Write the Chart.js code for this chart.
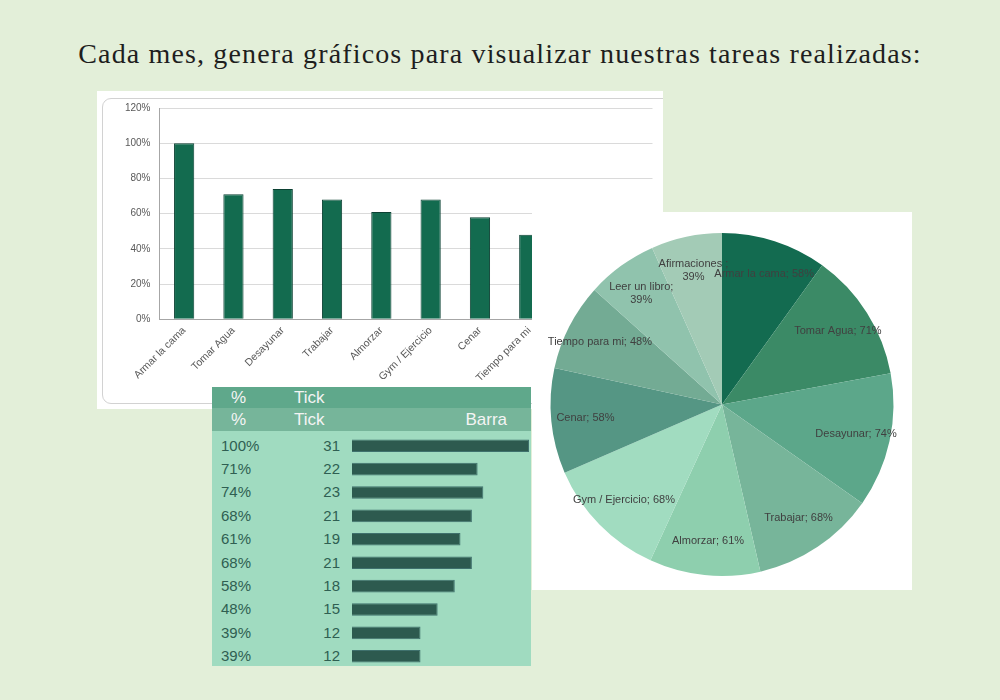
<!DOCTYPE html>
<html lang="es">
<head>
<meta charset="utf-8">
<title>Tareas realizadas</title>
<script src="https://cdn.jsdelivr.net/npm/chart.js@4.4.1/dist/chart.umd.min.js"></script>
<style>
  html, body { margin: 0; padding: 0; }
  body {
    width: 1000px; height: 700px; position: relative; overflow: hidden;
    background: #e3efd9;
    font-family: "Liberation Sans", Arial, sans-serif;
  }
  .title {
    position: absolute; left: 0; top: 40px; width: 1000px;
    text-align: center; white-space: nowrap;
    font-family: "Liberation Serif", "DejaVu Serif", serif;
    font-size: 28px; line-height: 28px; letter-spacing: 1.15px; color: #1e1e1e;
  }
  .bar-panel {
    position: absolute; left: 97px; top: 91px; width: 566px; height: 318px;
    background: #fff; overflow: hidden; z-index: 1;
  }
  .bar-panel .frame {
    position: absolute; left: 5px; top: 7px; width: 620px; height: 306px;
    border: 1px solid #d2d2d2; border-radius: 9px; box-sizing: border-box;
  }
  .bar-panel canvas { position: absolute; left: 0; top: 0; }
  .pie-panel {
    position: absolute; left: 532px; top: 212px; width: 380px; height: 378px;
    background: #fff; z-index: 2;
  }
  .pie-panel canvas { position: absolute; left: 0; top: 0; }
  .table-panel {
    position: absolute; left: 212px; top: 387px; width: 319px; height: 279px;
    background: #a0dbc0; z-index: 3; overflow: hidden;
  }
  .head { position: absolute; left: 0; width: 319px; color: #f4f4f4; font-size: 17px; }
  .head1 { top: 0; height: 21px; line-height: 21px; background: #5fa88b; }
  .head2 { top: 21px; height: 23px; line-height: 23px; background: #76b59a; }
  .head span, .row span { position: absolute; top: 0; }
  .row { position: absolute; left: 0; width: 319px; height: 23.4px; line-height: 23.4px; color: #2f5f52; font-size: 15px; }
  .table-panel canvas { position: absolute; left: 140px; top: 46.6px; }
</style>
</head>
<body>

<div class="title">Cada mes, genera gráficos para visualizar nuestras tareas realizadas:</div>

<div class="bar-panel">
  <div class="frame"></div>
  <canvas id="barChart" width="566" height="318"></canvas>
</div>

<div class="pie-panel">
  <canvas id="pieChart" width="380" height="378"></canvas>
</div>

<div class="table-panel">
  <div class="head head1"><span style="left:19px">%</span><span style="left:82px">Tick</span></div>
  <div class="head head2"><span style="left:19px">%</span><span style="left:82px">Tick</span><span style="right:24px">Barra</span></div>
  <div id="tableRows"></div>
  <canvas id="tickChart" width="177" height="234"></canvas>
</div>

<script>
// --- Data ---
const taskNames = ['Armar la cama', 'Tomar Agua', 'Desayunar', 'Trabajar', 'Almorzar',
                   'Gym / Ejercicio', 'Cenar', 'Tiempo para mi', 'Leer un libro', 'Afirmaciones'];
const percentDone = [100, 71, 74, 68, 61, 68, 58, 48, 39, 39];
const tickCounts = [31, 22, 23, 21, 19, 21, 18, 15, 12, 12];
const pieNames = ['Armar la cama', 'Tomar Agua', 'Desayunar', 'Trabajar', 'Almorzar',
                  'Gym / Ejercicio', 'Cenar', 'Tiempo para mi', 'Leer un libro', 'Afirmaciones '];
const pieValues = [58, 71, 74, 68, 61, 68, 58, 48, 39, 39];
const yTicks = [0, 20, 40, 60, 80, 100, 120];

const pieColors = ['#136b50', '#3b8a66', '#5ca78a', '#77b59a', '#8ecfae',
                   '#a1dcc0', '#559684', '#73ab94', '#90c3ad', '#a3cbb6'];

Chart.defaults.font.family = '"Liberation Sans", Arial, sans-serif';
Chart.defaults.animation = false;

// --- Column chart (top left) ---
new Chart(document.getElementById('barChart'), {
  type: 'bar',
  data: {
    labels: taskNames,
    datasets: [{
      data: percentDone,
      backgroundColor: '#136b4f',
      borderColor: '#0c4133',
      borderWidth: 1,
      categoryPercentage: 1,
      barPercentage: 0.41
    }]
  },
  options: {
    responsive: false,
    layout: { padding: { top: 17, right: 10.5 } },
    plugins: { legend: { display: false }, tooltip: { enabled: false } },
    scales: {
      x: {
        grid: { display: false, drawTicks: false },
        border: { color: '#a6a6a6' },
        ticks: { autoSkip: false, maxRotation: 45, minRotation: 45, padding: 5,
                 color: '#595959', font: { size: 10.5 } },
        afterFit: scale => { scale.height = 89.7; }
      },
      y: {
        min: yTicks[0],
        max: yTicks[yTicks.length - 1],
        grid: { color: '#dadada', drawTicks: false },
        border: { color: '#a6a6a6' },
        ticks: { stepSize: yTicks[1] - yTicks[0], padding: 9, color: '#595959',
                 font: { size: 10 }, callback: v => v + '%' },
        afterFit: scale => { scale.width = 62.5; }
      }
    }
  }
});

// --- Labels inside the pie slices ---
const pieLabelPlugin = {
  id: 'pieLabels',
  afterDatasetsDraw(chart) {
    const ctx = chart.ctx;
    const meta = chart.getDatasetMeta(0);
    ctx.save();
    ctx.font = '11px "Liberation Sans", Arial, sans-serif';
    ctx.fillStyle = '#404040';
    ctx.textAlign = 'center';
    ctx.textBaseline = 'middle';
    meta.data.forEach((arc, i) => {
      const p = arc.getProps(['x', 'y', 'startAngle', 'endAngle', 'outerRadius'], true);
      const mid = (p.startAngle + p.endAngle) / 2;
      const r = p.outerRadius * 0.8;
      const lx = p.x + Math.cos(mid) * r;
      const ly = p.y + Math.sin(mid) * r;
      const name = chart.data.labels[i];
      const value = chart.data.datasets[0].data[i] + '%';
      if (p.endAngle - p.startAngle < 0.45) {
        // narrow slice, wrap on two lines
        ctx.fillText(name + ';', lx, ly - 6.5);
        ctx.fillText(value, lx, ly + 6.5);
      } else {
        ctx.fillText(name + '; ' + value, lx, ly);
      }
    });
    ctx.restore();
  }
};

new Chart(document.getElementById('pieChart'), {
  type: 'pie',
  data: {
    labels: pieNames,
    datasets: [{ data: pieValues, backgroundColor: pieColors, borderWidth: 0 }]
  },
  options: {
    responsive: false,
    layout: { padding: { left: 18.5, right: 18.5, top: 21, bottom: 14 } },
    plugins: { legend: { display: false }, tooltip: { enabled: false } }
  },
  plugins: [pieLabelPlugin]
});

// --- Table rows (% and Tick) ---
const rowsBox = document.getElementById('tableRows');
percentDone.forEach((pct, i) => {
  const row = document.createElement('div');
  row.className = 'row';
  row.style.top = (46.6 + i * 23.4) + 'px';
  row.innerHTML = `<span style="left:9px">${pct}%</span><span style="right:191px">${tickCounts[i]}</span>`;
  rowsBox.appendChild(row);
});

// --- In-cell bars of the table ---
new Chart(document.getElementById('tickChart'), {
  type: 'bar',
  data: {
    labels: taskNames,
    datasets: [{
      data: tickCounts,
      backgroundColor: '#2d5a4f',
      borderColor: '#3f716d',
      borderWidth: 1,
      categoryPercentage: 1,
      barPercentage: 0.54
    }]
  },
  options: {
    indexAxis: 'y',
    responsive: false,
    layout: { padding: 0 },
    plugins: { legend: { display: false }, tooltip: { enabled: false } },
    scales: {
      x: { display: false, min: 0, max: Math.max(...tickCounts) },
      y: { display: false }
    }
  }
});
</script>
</body>
</html>
